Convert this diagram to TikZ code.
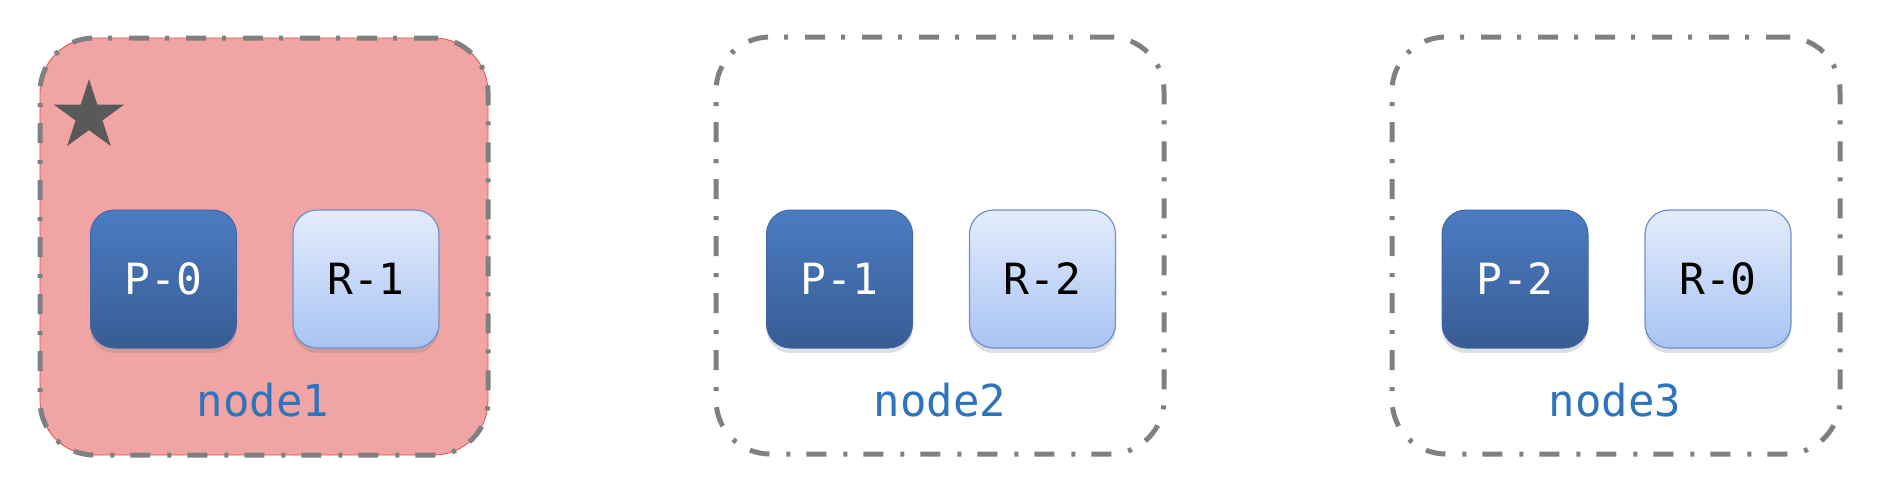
\documentclass[tikz,border=0pt]{standalone}
\usepackage{fontspec}
\newfontfamily\monofont{DejaVu Sans Mono}
\usetikzlibrary{shapes.geometric,shadows}
\definecolor{pinkfill}{HTML}{F0A4A3}
\definecolor{dashgray}{HTML}{808080}
\definecolor{startone}{HTML}{595959}
\definecolor{ptop}{HTML}{4B7CC2}
\definecolor{pbot}{HTML}{385C94}
\definecolor{pborder}{HTML}{4068A8}
\definecolor{rtop}{HTML}{E4ECFC}
\definecolor{rbot}{HTML}{A8C3F3}
\definecolor{rborder}{HTML}{6F90CC}
\definecolor{labelblue}{HTML}{2E74BD}
\definecolor{edgered}{HTML}{E84848}
\tikzset{
  hostbox/.style={rectangle, rounded corners=27pt, minimum width=224pt, minimum height=208.5pt,
    draw=dashgray, line width=2.5pt, dash pattern=on 10pt off 8.5pt on 2pt off 8pt, inner sep=0pt},
  pbox/.style={rectangle, rounded corners=12pt, minimum width=73pt, minimum height=69pt,
    top color=ptop, bottom color=pbot, draw=pborder, line width=0.5pt, text=white,
    font=\monofont\fontsize{21.5}{21.5}\selectfont,
    drop shadow={opacity=0.25, shadow xshift=0pt, shadow yshift=-2.5pt}},
  rbox/.style={rectangle, rounded corners=12pt, minimum width=73pt, minimum height=69pt,
    top color=rtop, bottom color=rbot, draw=rborder, line width=0.6pt, text=black,
    font=\monofont\fontsize{21.5}{21.5}\selectfont,
    drop shadow={opacity=0.25, shadow xshift=0pt, shadow yshift=-2.5pt}},
  hostlabel/.style={anchor=base, text=labelblue, font=\monofont\fontsize{22}{22}\selectfont, inner sep=0pt}
}
\begin{document}
\begin{tikzpicture}[x=0.5pt,y=-0.5pt]
\useasboundingbox (0,0) rectangle (1884,494);
% node1 background (highlighted)
\node[rectangle, rounded corners=27pt, minimum width=224pt, minimum height=208.5pt, inner sep=0pt,
  fill=pinkfill, draw=edgered, line width=0.4pt] (bg1) at (264,246.5) {};
\node[hostbox] (host1) at (264,246.5) {};
\node[hostbox] (host2) at (940,245.5) {};
\node[hostbox] (host3) at (1616,245.5) {};
% star
\node[star, star points=5, star point ratio=2.618, minimum size=37pt, inner sep=0pt, fill=startone] (mark1) at (89,116) {};
% partitions
\node[pbox] (p0) at (163.5,279) {P-0};
\node[rbox] (r1) at (366,279) {R-1};
\node[pbox] (p1) at (839.5,279) {P-1};
\node[rbox] (r2) at (1042.5,279) {R-2};
\node[pbox] (p2) at (1515,279) {P-2};
\node[rbox] (r0) at (1718,279) {R-0};
% labels
\node[hostlabel] (l1) at (263,416) {node1};
\node[hostlabel] (l2) at (940,416) {node2};
\node[hostlabel] (l3) at (1615,416) {node3};
\end{tikzpicture}
\end{document}
